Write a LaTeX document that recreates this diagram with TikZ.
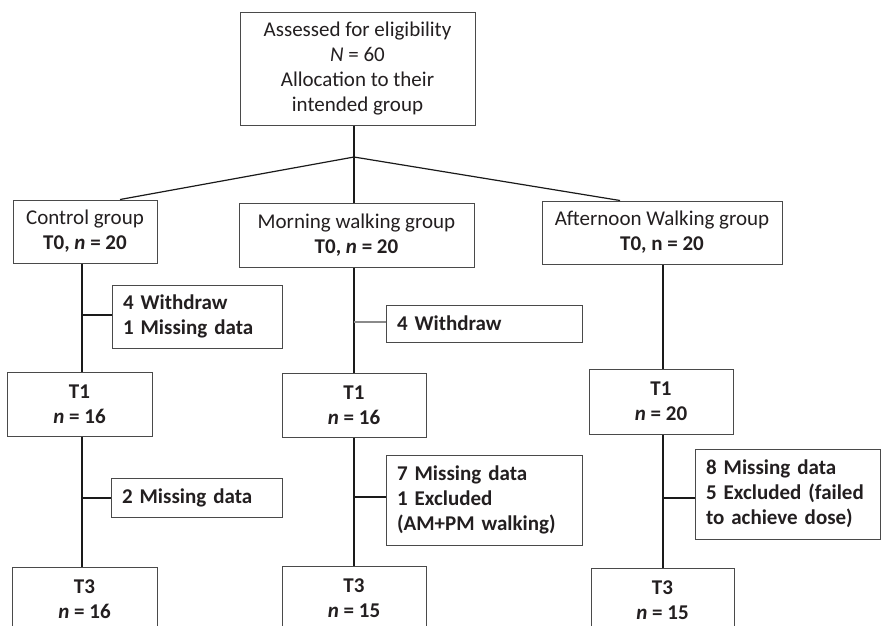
\documentclass[tikz,border=0pt]{standalone}
\usepackage{fontspec}
\setmainfont{Carlito}
\definecolor{boxgray}{HTML}{4A4A4A}
\definecolor{txt}{HTML}{231F20}
\definecolor{linec}{HTML}{1A1A1A}
\definecolor{lightline}{HTML}{8A8A8A}
\begin{document}
\begin{tikzpicture}[x=1pt,y=-1pt,
  font=\fontsize{21}{25}\selectfont,
  box/.style={draw=boxgray, line width=1pt, inner sep=0pt, align=center, text=txt},
  side/.style={draw=boxgray, line width=1pt, inner ysep=0pt, inner xsep=11pt, align=left, text=txt, font=\fontsize{21}{25}\selectfont\bfseries},
  conn/.style={line width=2pt, draw=linec},
  thinconn/.style={line width=1.2pt, draw=linec},
  greyconn/.style={line width=1.5pt, draw=lightline}]
\useasboundingbox (0,0) rectangle (881,625);
\clip (0,0) rectangle (881,625);
\fill[white] (0,0) rectangle (881,625);

% top
\node[box, minimum width=235pt, minimum height=113pt] (top) at (357.5,68.5)
  {Assessed for eligibility\\ \textit{N} = 60\\ Allocation to their\\ intended group};

% groups
\node[box, minimum width=144pt, minimum height=63pt] (cT0) at (85,231.5)
  {Control group\\ \textbf{T0, \textit{n} = 20}};
\node[box, minimum width=235pt, minimum height=64pt] (mT0) at (356.5,235)
  {Morning walking group\\ \textbf{T0, \textit{n} = 20}};
\node[box, minimum width=240pt, minimum height=63pt] (aT0) at (662,232.5)
  {Afternoon Walking group\\ \textbf{T0, n = 20}};

% side boxes
\node[side, text width=148pt, minimum height=63pt] (cW) at (197,316.5)
  {4 Withdraw\\ 1 Missing data};
\node[side, text width=174pt, minimum height=37pt] (mW) at (484,323.5)
  {4 Withdraw};
\node[side, text width=149pt, minimum height=39pt] (cM) at (196.5,497.5)
  {2 Missing data};
\node[side, text width=174pt, minimum height=90pt] (mM) at (484,500)
  {7 Missing data\\ 1 Excluded\\ (AM+PM walking)};
\node[side, text width=163pt, minimum height=90pt] (aM) at (787.5,494)
  {8 Missing data\\ 5 Excluded (failed\\ to achieve dose)};

% T1
\node[box, minimum width=145pt, minimum height=64pt, font=\fontsize{21}{25}\selectfont\bfseries] (cT1) at (79.5,404)
  {T1\\ \textit{n} = 16};
\node[box, minimum width=144pt, minimum height=64pt, font=\fontsize{21}{25}\selectfont\bfseries] (mT1) at (354,405)
  {T1\\ \textit{n} = 16};
\node[box, minimum width=144pt, minimum height=65pt, font=\fontsize{21}{25}\selectfont\bfseries] (aT1) at (661,401.5)
  {T1\\ \textit{n} = 20};

% T3
\node[box, minimum width=145pt, minimum height=64pt, font=\fontsize{21}{25}\selectfont\bfseries] (cT3) at (84.5,599)
  {T3\\ \textit{n} = 16};
\node[box, minimum width=144pt, minimum height=64pt, font=\fontsize{21}{25}\selectfont\bfseries] (mT3) at (354,598)
  {T3\\ \textit{n} = 15};
\node[box, minimum width=143pt, minimum height=64pt, font=\fontsize{21}{25}\selectfont\bfseries] (aT3) at (662.5,600)
  {T3\\ \textit{n} = 15};

% junction coordinates
\coordinate (J) at (354,157);
\coordinate (cx) at (82,315);
\coordinate (cx2) at (82,498);
\coordinate (mx) at (354,322);
\coordinate (mx2) at (354,497);
\coordinate (ax2) at (663,498);
\coordinate (cTin) at (120,199.5);
\coordinate (aTin) at (620,200.5);

% top connectors
\draw[conn] (top.south -| J) -- (J);
\draw[thinconn] (J) -- (cTin);
\draw[thinconn] (J) -- (aTin);
\draw[conn] (J) -- (mT0.north -| J);

% control column
\draw[conn] (cT0.south -| cx) -- (cT1.north -| cx);
\draw[conn] (cx) -- (cW.west |- cx);
\draw[conn] (cT1.south -| cx2) -- (cT3.north -| cx2);
\draw[conn] (cx2) -- (cM.west |- cx2);

% morning column
\draw[conn] (mT0.south -| mx) -- (mT1.north -| mx);
\draw[greyconn] (mx) -- (mW.west |- mx);
\draw[conn] (mT1.south -| mx2) -- (mT3.north -| mx2);
\draw[conn] (mx2) -- (mM.west |- mx2);

% afternoon column
\draw[thinconn] (aT0.south -| ax2) -- (aT1.north -| ax2);
\draw[thinconn] (aT1.south -| ax2) -- (aT3.north -| ax2);
\draw[conn] (ax2) -- (aM.west |- ax2);
\end{tikzpicture}
\end{document}
